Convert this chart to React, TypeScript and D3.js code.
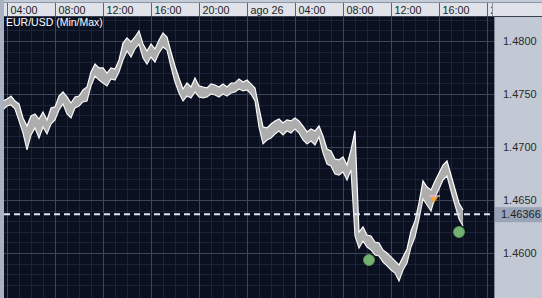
import React from "react";
import * as d3 from "d3";

// EUR/USD 20-minute min/max band, 25 Aug 03:40 to 26 Aug 18:00
const highs = [
  1.47434, 1.47453, 1.47481, 1.47434, 1.47406, 1.47274, 1.47198, 1.47293, 1.47312, 1.47264,
  1.4733, 1.47255, 1.47368, 1.47378, 1.47481, 1.47519, 1.47472, 1.47415, 1.47472, 1.47481,
  1.47538, 1.47566, 1.47708, 1.47783, 1.47746, 1.47746, 1.47698, 1.47746, 1.47736, 1.47821,
  1.47981, 1.48029, 1.47991, 1.48038, 1.48095, 1.47972, 1.47906, 1.47972, 1.47925, 1.4801,
  1.48076, 1.48038, 1.47896, 1.47764, 1.47651, 1.47547, 1.47604, 1.47566, 1.47651, 1.47576,
  1.47566, 1.47557, 1.47595, 1.47585, 1.47566, 1.47595, 1.47566, 1.47604, 1.47604, 1.47642,
  1.47613, 1.47632, 1.47595, 1.47557, 1.47368, 1.47189, 1.4718, 1.47217, 1.47246, 1.47264,
  1.47227, 1.47255, 1.47246, 1.47274, 1.47246, 1.47198, 1.47142, 1.4717, 1.47151, 1.47198,
  1.47104, 1.46981, 1.46963, 1.46887, 1.46878, 1.46906, 1.4683, 1.46972, 1.47151, 1.46198,
  1.46246, 1.4617, 1.46161, 1.46104, 1.46095, 1.46029, 1.46, 1.45963, 1.45925, 1.45887,
  1.45963, 1.46038, 1.46208, 1.46302, 1.46472, 1.4668, 1.46623, 1.46595, 1.4668, 1.46755,
  1.4683, 1.46868, 1.46736, 1.46604, 1.46472, 1.46406,
];
const lows = [
  1.47349, 1.47387, 1.47396, 1.47359, 1.47246, 1.47132, 1.46972, 1.47113, 1.4718, 1.47085,
  1.47189, 1.47123, 1.47217, 1.47255, 1.47349, 1.47406, 1.47312, 1.47274, 1.47368, 1.47387,
  1.47425, 1.47434, 1.47576, 1.4767, 1.47632, 1.47604, 1.47576, 1.47642, 1.47632, 1.47708,
  1.47821, 1.47906, 1.47849, 1.47925, 1.47972, 1.4784, 1.47783, 1.47849, 1.47802, 1.47887,
  1.47944, 1.47915, 1.47755, 1.47613, 1.4751, 1.47434, 1.47481, 1.47463, 1.47519, 1.47472,
  1.47463, 1.47472, 1.475, 1.47491, 1.47472, 1.475, 1.47481, 1.4751, 1.47519, 1.47547,
  1.47529, 1.47538, 1.475, 1.47434, 1.47189, 1.47029, 1.47066, 1.47085, 1.47123, 1.47151,
  1.47113, 1.47151, 1.47132, 1.4717, 1.47132, 1.47066, 1.47029, 1.47057, 1.47019, 1.47095,
  1.46944, 1.4684, 1.46821, 1.46746, 1.46736, 1.46764, 1.46689, 1.46783, 1.46161, 1.46047,
  1.46113, 1.46057, 1.46029, 1.45981, 1.45972, 1.45915, 1.45878, 1.4584, 1.45811, 1.45736,
  1.4584, 1.45906, 1.46057, 1.46151, 1.46321, 1.4651, 1.46453, 1.46396, 1.46528, 1.46604,
  1.46689, 1.46727, 1.46585, 1.46453, 1.46321, 1.46255,
];
const startTime = new Date(2008, 7, 25, 3, 40);
const stepMinutes = 20;

const priceTicks = [1.48, 1.475, 1.47, 1.465, 1.46];
const lastPrice = 1.46366;
const lowMarks = [
  { t: new Date(2008, 7, 26, 10, 10), v: 1.45934 },
  { t: new Date(2008, 7, 26, 17, 40), v: 1.46198 },
];
const highMarks = [{ t: new Date(2008, 7, 26, 15, 35), v: 1.465 }];
const title = "EUR/USD (Min/Max)";

const W = 542;
const H = 298;
const plotL = 4;
const plotR = 494;
const plotT = 17;
const font = "'Liberation Sans', Arial, sans-serif";

export default function App() {
  const x = d3
    .scaleTime()
    .domain([startTime, new Date(2008, 7, 26, 21, 0)])
    .range([3, 499]);
  const y = d3.scaleLinear().domain([1.48, 1.46]).range([41, 253]);

  const data = highs.map((h, i) => ({
    t: d3.timeMinute.offset(startTime, i * stepMinutes),
    hi: h,
    lo: lows[i],
  }));

  const area = d3
    .area<any>()
    .x((d) => x(d.t))
    .y0((d) => y(d.lo))
    .y1((d) => y(d.hi));
  const hiLine = d3.line<any>().x((d) => x(d.t)).y((d) => y(d.hi));
  const loLine = d3.line<any>().x((d) => x(d.t)).y((d) => y(d.lo));

  const majorTimes = d3.timeHour
    .every(4)!
    .range(new Date(2008, 7, 25, 4, 0), new Date(2008, 7, 27, 0, 0));
  const minorTimes = d3.timeHour.range(startTime, new Date(2008, 7, 26, 21, 0));
  const minorPrices = d3.range(14570, 14840, 10).map((v) => v / 10000);

  const fmtTime = (d: Date) =>
    d.getHours() === 0 ? `ago ${d.getDate()}` : d3.timeFormat("%H:%M")(d);

  const lastY = y(lastPrice);

  return (
    <svg
      width={W}
      height={H}
      style={{ position: "absolute", left: 0, top: 0 }}
      fontFamily={font}
    >
      <defs>
        <clipPath id="plot">
          <rect x={plotL} y={plotT} width={plotR - plotL} height={H - plotT} />
        </clipPath>
      </defs>
      <rect x={0} y={0} width={W} height={H} fill="#0a1020" />

      <g clipPath="url(#plot)">
        {minorTimes.map((t, i) => (
          <line key={"mv" + i} x1={Math.round(x(t)) + 0.5} x2={Math.round(x(t)) + 0.5} y1={plotT} y2={H} stroke="#1a2338" />
        ))}
        {minorPrices.map((v, i) => (
          <line key={"mh" + i} x1={plotL} x2={plotR} y1={Math.round(y(v)) + 0.5} y2={Math.round(y(v)) + 0.5} stroke="#1a2338" />
        ))}
        {majorTimes.map((t, i) => (
          <line key={"Mv" + i} x1={Math.round(x(t)) + 0.5} x2={Math.round(x(t)) + 0.5} y1={plotT} y2={H} stroke="#3b4659" />
        ))}
        {priceTicks.map((v, i) => (
          <line key={"Mh" + i} x1={plotL} x2={plotR} y1={Math.round(y(v)) + 0.5} y2={Math.round(y(v)) + 0.5} stroke="#3b4659" />
        ))}

        <path d={area(data)!} fill="#adadad" />
        <path d={hiLine(data)!} fill="none" stroke="#ffffff" strokeWidth={1.2} />
        <path d={loLine(data)!} fill="none" stroke="#f4f4f4" strokeWidth={1.2} />

        <line x1={plotL} x2={plotR} y1={lastY} y2={lastY} stroke="#dde5f5" strokeWidth={2} strokeDasharray="6 4" />

        {highMarks.map((m, i) => {
          const cx = x(m.t);
          const cy = y(m.v);
          return (
            <g key={"hm" + i}>
              <line x1={cx - 5} x2={cx + 6} y1={cy - 4} y2={cy - 4} stroke="#e8b8c8" strokeWidth={1.5} />
              <path d={`M${cx - 4},${cy - 3}L${cx + 4},${cy - 3}L${cx},${cy + 3}Z`} fill="#f3a53c" />
            </g>
          );
        })}
        {lowMarks.map((m, i) => (
          <circle key={"lm" + i} cx={x(m.t)} cy={y(m.v)} r={5.5} fill="#74b072" stroke="#5e9a5c" strokeWidth={0.8} />
        ))}

        <text x={6} y={26} fill="#ffffff" fontSize={10.5}>
          {title}
        </text>
      </g>

      {/* time axis strip */}
      <rect x={0} y={0} width={W} height={plotT} fill="#c4cbd6" />
      <line x1={0} x2={W} y1={2.5} y2={2.5} stroke="#8d96a6" />
      <rect x={plotL} y={3} width={plotR - plotL} height={13} fill="#dfe2e8" />
      <line x1={0} x2={W} y1={16.5} y2={16.5} stroke="#3a4150" />
      {majorTimes.map((t, i) => {
        const tx = Math.round(x(t)) + 0.5;
        return (
          <g key={"tl" + i}>
            <line x1={tx} x2={tx} y1={3} y2={16} stroke="#5d6575" />
            <text x={tx + 3} y={13.5} fill="#1d1d1d" fontSize={10.8}>
              {fmtTime(t)}
            </text>
          </g>
        );
      })}
      <rect x={plotR - 2} y={3} width={W - plotR + 2} height={13} fill="#dfe2e8" />
      <line x1={plotR - 1.5} x2={plotR - 1.5} y1={3} y2={16} stroke="#8a93a3" />

      {/* left strip */}
      <rect x={0} y={0} width={plotL} height={H} fill="#a9b2c2" />

      {/* price axis */}
      <rect x={plotR} y={plotT} width={W - plotR} height={H - plotT} fill="#c3c9d4" />
      <line x1={plotR + 0.5} x2={plotR + 0.5} y1={plotT} y2={H} stroke="#7e8798" />
      {priceTicks.map((v, i) => (
        <text key={"pl" + i} x={503} y={y(v) + 4} fill="#2a2a2a" fontSize={11}>
          {d3.format(".4f")(v)}
        </text>
      ))}
      <rect x={plotR + 1} y={lastY - 7} width={W - plotR - 1} height={15} fill="#9aa4b8" />
      <text x={501} y={lastY + 4} fill="#1e1e1e" fontSize={11}>
        {d3.format(".5f")(lastPrice)}
      </text>
    </svg>
  );
}
